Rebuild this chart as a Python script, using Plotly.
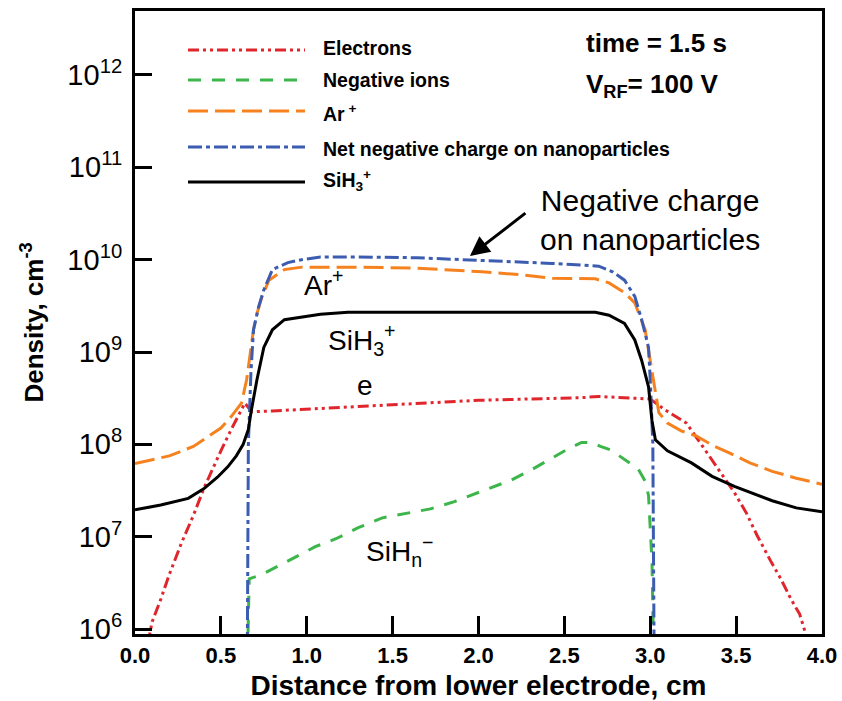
import plotly.graph_objects as go

# Distance from the lower electrode (cm) and species densities (cm^-3), t = 1.5 s, V_RF = 100 V
electron_x = [0.075, 0.10, 0.15, 0.20, 0.27, 0.34, 0.40, 0.45, 0.50, 0.56, 0.60, 0.64, 0.66, 0.68,
              0.80, 1.00, 1.20, 1.40, 1.60, 1.80, 2.00, 2.30, 2.60, 2.70, 2.85, 3.00, 3.08, 3.21,
              3.30, 3.38, 3.49, 3.56, 3.62, 3.70, 3.76, 3.82, 3.87, 3.90, 3.92]
electron_n = [7.0e5, 1.2e6, 2.1e6, 3.9e6, 8.5e6, 1.7e7, 3.3e7, 5.4e7, 8.5e7, 1.45e8, 2.0e8, 2.8e8, 2.5e8, 2.25e8,
              2.3e8, 2.4e8, 2.5e8, 2.6e8, 2.75e8, 2.85e8, 3.0e8, 3.1e8, 3.2e8, 3.3e8, 3.2e8, 3.1e8, 2.4e8, 1.7e8,
              9.8e7, 5.9e7, 3.0e7, 1.8e7, 1.05e7, 5.5e6, 3.5e6, 2.1e6, 1.45e6, 9.5e5, 6.0e5]

neg_ion_x = [0.655, 0.665, 0.74, 0.85, 0.95, 1.05, 1.17, 1.30, 1.44, 1.58, 1.72, 1.86, 2.00, 2.10, 2.19,
             2.30, 2.38, 2.45, 2.52, 2.60, 2.66, 2.71, 2.77, 2.82, 2.88, 2.93, 2.97, 2.99, 3.01, 3.02]
neg_ion_n = [5.0e5, 3.5e6, 3.9e6, 5.0e6, 6.3e6, 7.8e6, 9.5e6, 1.25e7, 1.6e7, 1.8e7, 2.0e7, 2.4e7, 3.0e7, 3.5e7, 4.1e7,
             5.2e7, 6.3e7, 7.6e7, 8.9e7, 1.05e8, 1.05e8, 9.5e7, 8.7e7, 7.5e7, 6.3e7, 5.4e7, 4.0e7, 2.8e7, 5.4e6, 5.0e5]

ar_x = [0.00, 0.10, 0.20, 0.34, 0.42, 0.50, 0.56, 0.62, 0.65, 0.67, 0.69, 0.71, 0.74, 0.78, 0.87, 0.97,
        1.08, 1.30, 1.64, 2.02, 2.27, 2.43, 2.68, 2.76, 2.85, 2.91, 2.97, 3.02, 3.05, 3.10, 3.18, 3.27,
        3.36, 3.46, 3.58, 3.71, 3.85, 4.00]
ar_n = [6.2e7, 6.8e7, 7.5e7, 9.5e7, 1.2e8, 1.5e8, 2.0e8, 2.8e8, 5.0e8, 1.0e9, 1.75e9, 2.6e9, 4.0e9, 6.0e9, 7.8e9, 8.3e9,
        8.3e9, 8.3e9, 8.1e9, 7.4e9, 6.8e9, 6.3e9, 6.2e9, 5.6e9, 4.4e9, 3.4e9, 1.75e9, 5.0e8, 2.2e8, 1.7e8, 1.4e8, 1.23e8,
        9.8e7, 8.1e7, 6.3e7, 5.1e7, 4.3e7, 3.7e7]

np_x = [0.650, 0.652, 0.66, 0.675, 0.69, 0.72, 0.75, 0.80, 0.89, 0.97, 1.08, 1.30, 1.64, 1.93, 2.20,
        2.43, 2.70, 2.78, 2.85, 2.91, 2.95, 2.99, 3.00, 3.015, 3.025, 3.03]
np_n = [1.0e3, 1.0e5, 1.0e8, 6.0e8, 1.74e9, 3.1e9, 4.7e9, 7.8e9, 9.3e9, 1.0e10, 1.07e10, 1.07e10, 1.05e10, 1.0e10, 9.5e9,
        9.1e9, 8.5e9, 7.4e9, 6.0e9, 4.0e9, 2.24e9, 1.12e9, 5.0e8, 1.0e8, 1.0e5, 1.0e3]

sih3_x = [0.00, 0.15, 0.31, 0.40, 0.48, 0.54, 0.59, 0.63, 0.66, 0.675, 0.71, 0.75, 0.80, 0.87, 1.08, 1.24,
          2.00, 2.68, 2.76, 2.85, 2.91, 2.95, 2.99, 3.01, 3.03, 3.10, 3.24, 3.36, 3.49, 3.60, 3.71, 3.85, 4.00]
sih3_n = [1.95e7, 2.2e7, 2.6e7, 3.3e7, 4.4e7, 5.7e7, 7.5e7, 1.0e8, 1.45e8, 2.2e8, 5.0e8, 1.12e9, 1.74e9, 2.24e9, 2.57e9, 2.7e9,
          2.7e9, 2.7e9, 2.5e9, 2.04e9, 1.35e9, 8.1e8, 4.2e8, 1.8e8, 1.12e8, 8.5e7, 6.3e7, 4.5e7, 3.5e7, 2.9e7, 2.45e7, 2.05e7, 1.86e7]

legend_labels = ["Electrons", "Negative ions", "Ar<sup> +</sup>",
                 "Net negative charge on nanoparticles", "SiH<sub>3</sub><sup>+</sup>"]

y_tick_vals = [1e6, 1e7, 1e8, 1e9, 1e10, 1e11, 1e12]
y_tick_text = ["10<sup>6</sup>", "10<sup>7</sup>", "10<sup>8</sup>", "10<sup>9</sup>",
               "10<sup>10</sup>", "10<sup>11</sup>", "10<sup>12</sup>"]
x_tick_vals = [0.0, 0.5, 1.0, 1.5, 2.0, 2.5, 3.0, 3.5, 4.0]

RED, GREEN, ORANGE, BLUE = "#e0262c", "#3cb54a", "#f6821f", "#3b5cb0"
FONT = "Liberation Sans, Arial, sans-serif"

series = [
    (electron_x, electron_n, RED, "11px,4px,3px,4px,3px,4px"),
    (neg_ion_x, neg_ion_n, GREEN, "13px,11px"),
    (ar_x, ar_n, ORANGE, "20px,7px"),
    (np_x, np_n, BLUE, "14px,4px,4px,4px"),
    (sih3_x, sih3_n, "black", "solid"),
]

W, H = 842, 701
ML, MR, MT, MB = 135, 20, 11, 67
PW, PH = W - ML - MR, H - MT - MB


def fx(p):
    return (p - ML) / PW


def fy(p):
    return 1 - (p - MT) / PH


fig = go.Figure()
for (xs, ns, col, dash), name in zip(series, legend_labels):
    fig.add_trace(go.Scatter(x=xs, y=ns, mode="lines", name=name, showlegend=False,
                             line=dict(color=col, width=3, dash=dash)))

# legend drawn as long line samples with labels
shapes = []
annotations = []
legend_rows = [50, 80, 111, 147, 182]
legend_text_dy = [-2, 0, 2, 2, -1]
for (xs, ns, col, dash), label, ry, dy in zip(series, legend_labels, legend_rows, legend_text_dy):
    shapes.append(dict(type="line", xref="paper", yref="paper", x0=fx(188), x1=fx(305),
                       y0=fy(ry), y1=fy(ry), line=dict(color=col, width=3, dash=dash)))
    annotations.append(dict(xref="paper", yref="paper", x=fx(321), y=fy(ry + dy), text=label,
                            showarrow=False, xanchor="left", yanchor="middle",
                            font=dict(family=FONT, size=19.5, color="black", weight="bold")))

annotations += [
    dict(xref="paper", yref="paper", x=fx(584), y=fy(43), text="time = 1.5 s", showarrow=False,
         xanchor="left", yanchor="middle", font=dict(family=FONT, size=26, color="black", weight="bold")),
    dict(xref="paper", yref="paper", x=fx(584), y=fy(85), text="V<sub>RF</sub>= 100 V", showarrow=False,
         xanchor="left", yanchor="middle", font=dict(family=FONT, size=26, color="black", weight="bold")),
    dict(xref="paper", yref="paper", x=fx(650), y=fy(220), text="Negative charge<br>on nanoparticles",
         showarrow=False, xanchor="center", yanchor="middle", align="center",
         font=dict(family=FONT, size=30, color="black")),
    dict(x=1.95, y=10.04, xref="x", yref="y", text="", showarrow=True, arrowhead=2, arrowsize=1.3,
         arrowwidth=3, arrowcolor="black", ax=57, ay=-44),
    dict(x=1.10, y=9.75, xref="x", yref="y", text="Ar<sup>+</sup>", showarrow=False,
         font=dict(family=FONT, size=28, color="black")),
    dict(x=1.32, y=9.13, xref="x", yref="y", text="SiH<sub>3</sub><sup>+</sup>", showarrow=False,
         font=dict(family=FONT, size=28, color="black")),
    dict(x=1.34, y=8.64, xref="x", yref="y", text="e", showarrow=False,
         font=dict(family=FONT, size=28, color="black")),
    dict(x=1.54, y=6.85, xref="x", yref="y", text="SiH<sub>n</sub><sup>\u2212</sup>", showarrow=False,
         font=dict(family=FONT, size=28, color="black")),
]

fig.update_layout(
    width=W, height=H,
    margin=dict(l=ML, r=MR, t=MT, b=MB, autoexpand=False),
    paper_bgcolor="white", plot_bgcolor="white",
    showlegend=False,
    shapes=shapes,
    annotations=annotations,
    font=dict(family=FONT, color="black"),
)

fig.update_xaxes(
    range=[0, 4], tickvals=x_tick_vals, tickformat=".1f",
    ticks="inside", ticklen=18, tickwidth=3, tickcolor="black",
    showline=True, linewidth=3, linecolor="black", mirror=True,
    showgrid=False, zeroline=False, ticklabelstandoff=0,
    tickfont=dict(family=FONT, size=22, color="black", weight="bold"),
    title=dict(text="Distance from lower electrode, cm", standoff=11,
               font=dict(family=FONT, size=28, color="black", weight="bold")),
)
fig.update_yaxes(
    type="log", range=[5.946, 12.693], tickvals=y_tick_vals, ticktext=y_tick_text,
    ticks="inside", ticklen=17, tickwidth=3, tickcolor="black",
    showline=True, linewidth=3, linecolor="black", mirror=True,
    showgrid=False, zeroline=False, ticklabelstandoff=4,
    tickfont=dict(family=FONT, size=29, color="black"),
    title=dict(text="Density, cm<sup>-3</sup>", standoff=17,
               font=dict(family=FONT, size=26, color="black", weight="bold")),
)

fig.write_html("out.html")
